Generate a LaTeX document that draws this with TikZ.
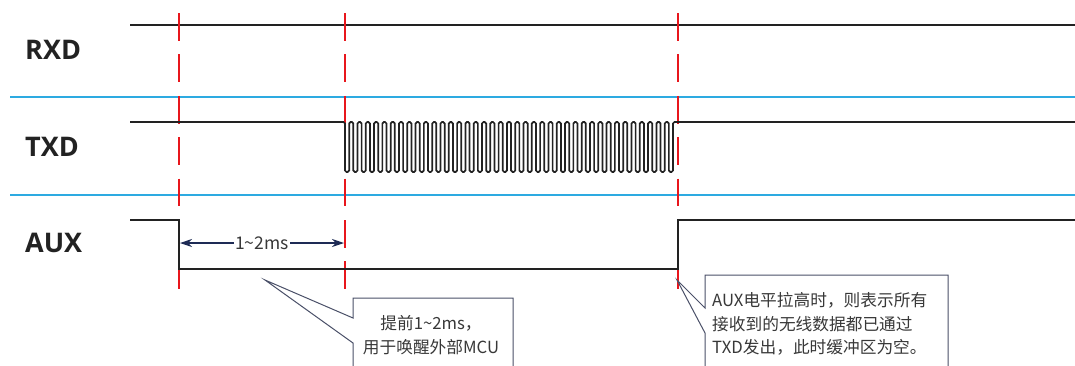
\documentclass[tikz,border=0pt]{standalone}
\usepackage{fontspec}
\setmainfont{Open Sans}
\newfontfamily\cjk{Noto Sans CJK SC}
\usetikzlibrary{arrows.meta,calc}
\definecolor{sepblue}{HTML}{2DAAE1}
\definecolor{guidered}{HTML}{E8161C}
\definecolor{dimnavy}{HTML}{1E2B55}
\definecolor{boxgray}{HTML}{4A5068}
\definecolor{ink}{HTML}{222222}
\begin{document}
\begin{tikzpicture}[x=1pt,y=-1pt,
  sig/.style={line width=2pt, ink},
  wave/.style={line width=1.7pt, ink, rounded corners=1.5pt},
  sepline/.style={line width=2.6pt, sepblue},
  guide/.style={guidered, line width=2pt, dash pattern=on 27.7pt off 13.7pt},
  lab/.style={font=\fontsize{27}{32}\selectfont\bfseries, text=ink, anchor=west, inner sep=0pt},
  note/.style={font=\cjk\fontsize{16.7}{23.5}\selectfont, text=ink!90, inner sep=0pt},
  dimtext/.style={font=\cjk\fontsize{17.5}{20}\selectfont, text=ink!90, fill=white, inner sep=1.5pt},
  dimarrow/.style={dimnavy, line width=1.1pt, {Stealth[length=12pt,width=8pt]}-{Stealth[length=12pt,width=8pt]}},
  cbox/.style={draw=boxgray, line width=1pt, fill=white},
  boxframe/.style={anchor=north west, inner sep=0pt, outer sep=0pt}
]
\useasboundingbox (0,0) rectangle (1075,365);
\clip (0,0) rectangle (1075,365);

% separators
\draw[sepline] (10,97) -- (1075,97);
\draw[sepline] (10,195) -- (1075,195);

% labels
\node[lab] (lrxd) at (25,50) {RXD};
\node[lab] (ltxd) at (25,147) {TXD};
\node[lab] (laux) at (25,243) {AUX};

% RXD
\draw[sig] (130,25) -- (1075,25);

% guides
\coordinate (g1t) at (179,13); \coordinate (g1b) at (179,289);
\coordinate (g2t) at (345,13); \coordinate (g2b) at (345,289);
\coordinate (g3t) at (678,13); \coordinate (g3b) at (678,289);
\draw[guide] (g1t) -- (g1b);
\draw[guide] (g2t) -- (g2b);
\draw[guide] (g3t) -- (g3b);

% TXD
\pgfmathsetmacro{\w}{328/79}
\draw[wave] (130,122) -- (345,122)
  \foreach \i in {0,...,39} {
    -- ({345+2*\i*\w},172) -- ({345+(2*\i+1)*\w},172)
    -- ({345+(2*\i+1)*\w},122) -- ({345+(2*\i+2)*\w},122)
  } -- (1075,122);
\draw[sig] (690,122) -- (1075,122);
\draw[sig] (130,122) -- (343,122);

% AUX
\draw[sig] (130,220) -- (179,220) -- (179,269) -- (678,269) -- (678,220) -- (1075,220);

% dimension
\coordinate (d1) at (180,243);
\coordinate (d2) at (344,243);
\draw[dimarrow] (d1) -- (d2);
\node[dimtext] (ms) at (262,243) {1\char"007E 2ms};

% callout 1
\coordinate (tip1) at (265,280);
\node[boxframe, minimum width=160pt, minimum height=110pt] (box1) at (353,298) {};
\draw[cbox] (box1.north west) -- ($(box1.north west)+(0,20)$) -- (tip1)
  -- ($(box1.north west)+(0,45)$) -- (box1.south west) -- (box1.south east)
  -- (box1.north east) -- cycle;
\node[note, align=center] (note1) at (431,335) {提前1\char"007E 2ms，\\用于唤醒外部MCU};

% callout 2
\coordinate (tip2) at (677,280);
\node[boxframe, minimum width=243pt, minimum height=110pt] (box2) at (705,275) {};
\draw[cbox] (box2.north west) -- ($(box2.north west)+(0,33)$) -- (tip2)
  -- ($(box2.north west)+(0,58)$) -- (box2.south west) -- (box2.south east)
  -- (box2.north east) -- cycle;
\node[note, align=left, anchor=west] (note2) at (712,324) {AUX电平拉高时，则表示所有\\接收到的无线数据都已通过\\TXD发出，此时缓冲区为空。};
\end{tikzpicture}
\end{document}
